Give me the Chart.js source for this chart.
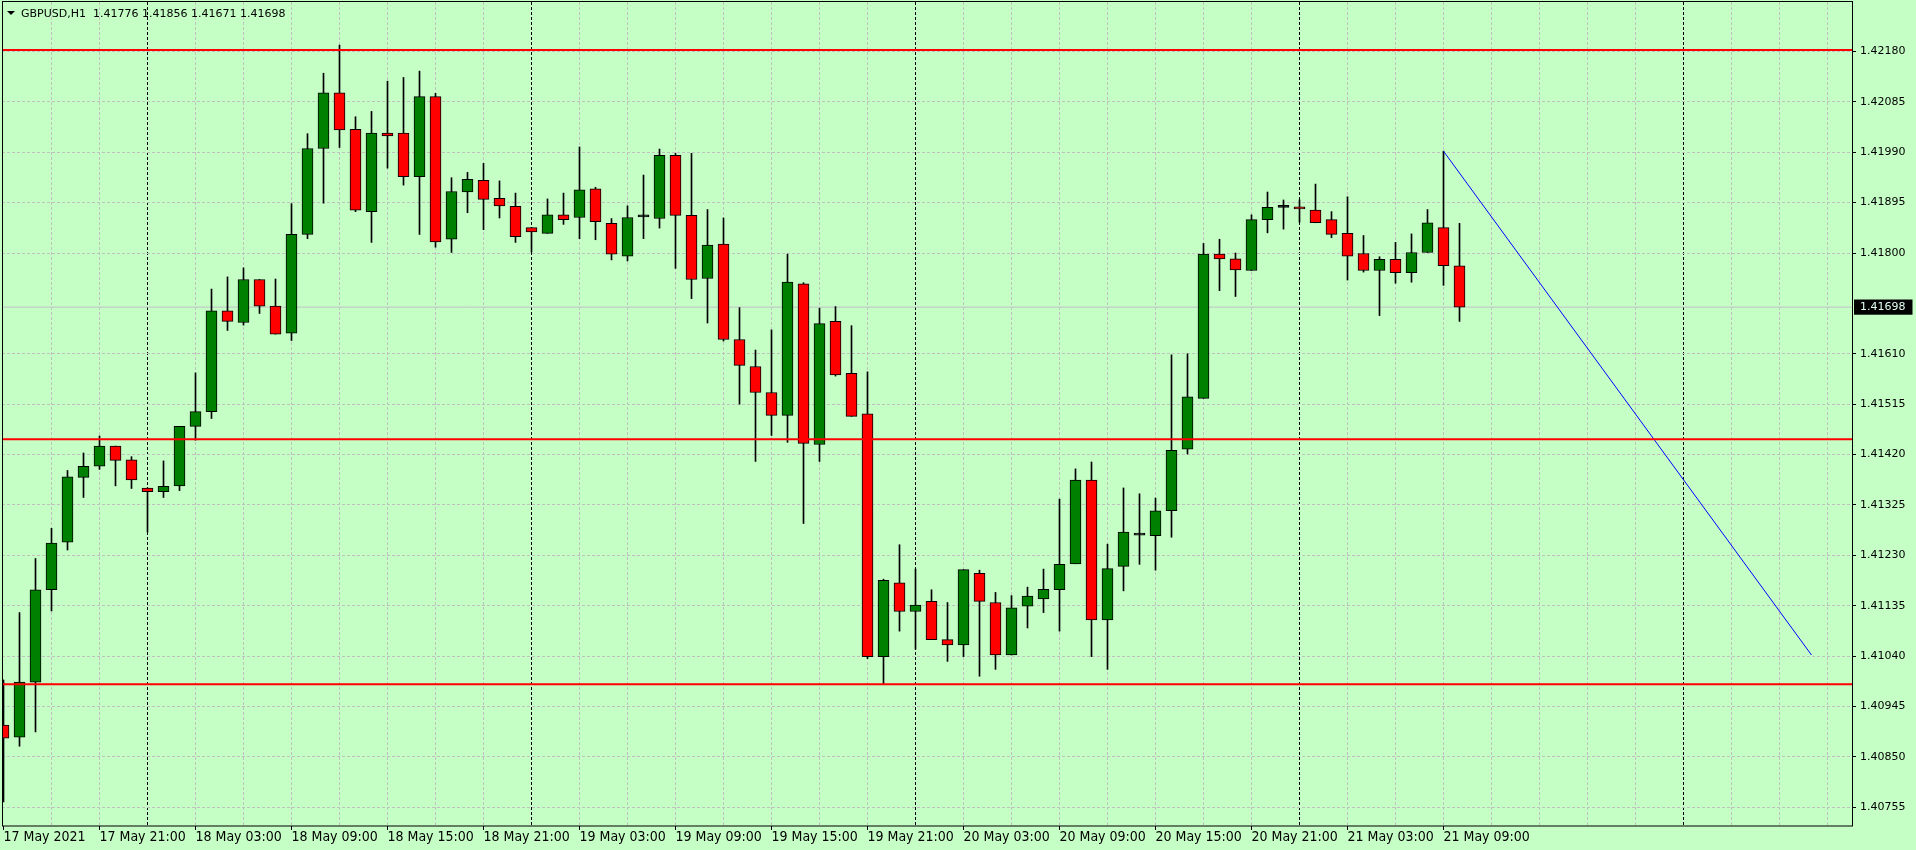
<!DOCTYPE html>
<html>
<head>
<meta charset="utf-8">
<title>GBPUSD,H1</title>
<script src="https://cdn.jsdelivr.net/npm/chart.js@4.4.1/dist/chart.umd.min.js"></script>
<style>
  html, body { margin: 0; padding: 0; background: rgb(198,255,198); overflow: hidden; }
  canvas { display: block; }
</style>
</head>
<body>
<canvas id="chart" width="1916" height="850"></canvas>
<script>
// GBPUSD H1, 17 May 15:00 .. 21 May 10:00 (one bar per hour)
const symbol = "GBPUSD,H1";

const opens = [
  1.40910, 1.40887, 1.40991, 1.41165, 1.41255, 1.41377, 1.41398, 1.41436, 1.41410, 1.41357,
  1.41350, 1.41361, 1.41473, 1.41501, 1.41691, 1.41669, 1.41750, 1.41700, 1.41649, 1.41835,
  1.41997, 1.42102, 1.42033, 1.41878, 1.42026, 1.42026, 1.41944, 1.42095, 1.41826, 1.41915,
  1.41937, 1.41903, 1.41888, 1.41848, 1.41837, 1.41872, 1.41867, 1.41921, 1.41856, 1.41794,
  1.41868, 1.41865, 1.41984, 1.41871, 1.41752, 1.41817, 1.41637, 1.41586, 1.41537, 1.41494,
  1.41742, 1.41439, 1.41671, 1.41573, 1.41497, 1.41039, 1.41178, 1.41124, 1.41143, 1.41071,
  1.41061, 1.41196, 1.41141, 1.41042, 1.41134, 1.41148, 1.41165, 1.41214, 1.41372, 1.41108,
  1.41209, 1.41268, 1.41267, 1.41314, 1.41430, 1.41526, 1.41798, 1.41789, 1.41767, 1.41863,
  1.41886, 1.41887, 1.41881, 1.41863, 1.41837, 1.41799, 1.41767, 1.41788, 1.41763, 1.41801,
  1.41848, 1.41776
];
const highs = [
  1.40995, 1.41122, 1.41224, 1.41281, 1.41390, 1.41423, 1.41455, 1.41436, 1.41416, 1.41357,
  1.41408, 1.41473, 1.41574, 1.41732, 1.41755, 1.41772, 1.41750, 1.41751, 1.41893, 1.42025,
  1.42139, 1.42192, 1.42057, 1.42067, 1.42124, 1.42131, 1.42143, 1.42101, 1.41942, 1.41952,
  1.41969, 1.41936, 1.41913, 1.41848, 1.41902, 1.41913, 1.42000, 1.41924, 1.41865, 1.41889,
  1.41947, 1.41996, 1.41988, 1.41988, 1.41882, 1.41866, 1.41697, 1.41617, 1.41655, 1.41798,
  1.41744, 1.41696, 1.41699, 1.41663, 1.41576, 1.41185, 1.41250, 1.41204, 1.41165, 1.41141,
  1.41203, 1.41202, 1.41160, 1.41154, 1.41170, 1.41204, 1.41336, 1.41393, 1.41406, 1.41251,
  1.41357, 1.41346, 1.41338, 1.41608, 1.41610, 1.41818, 1.41826, 1.41800, 1.41872, 1.41915,
  1.41900, 1.41900, 1.41930, 1.41878, 1.41906, 1.41833, 1.41793, 1.41820, 1.41836, 1.41882,
  1.41992, 1.41856
];
const lows = [
  1.40765, 1.40870, 1.40897, 1.41125, 1.41240, 1.41339, 1.41392, 1.41361, 1.41356, 1.41274,
  1.41339, 1.41352, 1.41447, 1.41488, 1.41654, 1.41664, 1.41686, 1.41647, 1.41635, 1.41827,
  1.41894, 1.41999, 1.41878, 1.41820, 1.41960, 1.41928, 1.41835, 1.41811, 1.41801, 1.41876,
  1.41844, 1.41866, 1.41820, 1.41802, 1.41837, 1.41854, 1.41827, 1.41825, 1.41787, 1.41785,
  1.41827, 1.41847, 1.41771, 1.41714, 1.41668, 1.41634, 1.41515, 1.41407, 1.41456, 1.41443,
  1.41290, 1.41407, 1.41568, 1.41492, 1.41035, 1.40986, 1.41087, 1.41053, 1.41071, 1.41030,
  1.41039, 1.41002, 1.41015, 1.41042, 1.41093, 1.41122, 1.41087, 1.41214, 1.41039, 1.41015,
  1.41163, 1.41213, 1.41202, 1.41264, 1.41421, 1.41526, 1.41729, 1.41718, 1.41767, 1.41838,
  1.41845, 1.41858, 1.41857, 1.41829, 1.41749, 1.41764, 1.41682, 1.41743, 1.41745, 1.41801,
  1.41739, 1.41671
];
const closes = [
  1.40885, 1.40991, 1.41165, 1.41253, 1.41378, 1.41398, 1.41436, 1.41409, 1.41372, 1.41350,
  1.41360, 1.41473, 1.41501, 1.41691, 1.41671, 1.41750, 1.41700, 1.41647, 1.41835, 1.41997,
  1.42102, 1.42032, 1.41881, 1.42026, 1.42021, 1.41944, 1.42095, 1.41821, 1.41916, 1.41939,
  1.41901, 1.41889, 1.41831, 1.41840, 1.41872, 1.41863, 1.41919, 1.41859, 1.41798, 1.41867,
  1.41868, 1.41984, 1.41871, 1.41750, 1.41815, 1.41637, 1.41588, 1.41537, 1.41494, 1.41745,
  1.41441, 1.41667, 1.41570, 1.41492, 1.41039, 1.41183, 1.41124, 1.41136, 1.41071, 1.41061,
  1.41203, 1.41143, 1.41042, 1.41131, 1.41153, 1.41166, 1.41213, 1.41372, 1.41108, 1.41205,
  1.41274, 1.41268, 1.41314, 1.41428, 1.41529, 1.41798, 1.41789, 1.41768, 1.41863, 1.41886,
  1.41886, 1.41883, 1.41857, 1.41835, 1.41794, 1.41767, 1.41788, 1.41763, 1.41801, 1.41857,
  1.41776, 1.41698
];

// time axis labels, one every 6 bars starting at bar 0
const xLabels = [
  "17 May 2021", "17 May 21:00", "18 May 03:00", "18 May 09:00", "18 May 15:00", "18 May 21:00",
  "19 May 03:00", "19 May 09:00", "19 May 15:00", "19 May 21:00", "20 May 03:00", "20 May 09:00",
  "20 May 15:00", "20 May 21:00", "21 May 03:00", "21 May 09:00"
];
const labelStep = 6;
const gridStep = 3;
const daySeps = [9, 33, 57, 81, 105]; // midnight bars

const yTicks = [
  1.40755, 1.40850, 1.40945, 1.41040, 1.41135, 1.41230, 1.41325, 1.41420,
  1.41515, 1.41610, 1.41800, 1.41895, 1.41990, 1.42085, 1.42180
];

// horizontal levels and the trend line
const levels = [1.42183, 1.41449, 1.40987];
const trendX = [90, 113];
const trendY = [1.41992, 1.41042];

// view window
const xMin = -0.09375, xMax = 115.53125;
const yMin = 1.407196, yMax = 1.422733;

const gridGray = "rgb(192,192,192)";
const bull = "rgb(0,128,0)";
const bear = "rgb(255,0,0)";
const clear = "rgba(0,0,0,0)";
const font = "'DejaVu Sans', Verdana, sans-serif";
const narrow = "'Liberation Sans Narrow', 'DejaVu Sans Condensed', 'Arial Narrow', sans-serif";

const last = closes.length - 1;
const lastClose = closes[last];

const bodies = opens.map((o, i) => ({ x: i, y: [o, closes[i]] }));
const wicks = lows.map((l, i) => ({ x: i, y: [l, highs[i]] }));
const bodyColors = opens.map((o, i) => closes[i] > o ? bull : (closes[i] < o ? bear : "#000"));

const gridTicks = [];
for (let v = 0; v <= Math.floor(xMax); v += gridStep) gridTicks.push(v);

const levelSets = levels.map(v => ({
  type: "line",
  data: [{ x: xMin, y: v }, { x: xMax, y: v }],
  borderColor: "#ff0000",
  borderWidth: 2,
  pointRadius: 0,
  order: 0
}));

const frame = {
  id: "frame",
  afterDraw(chart) {
    const { ctx, chartArea: a } = chart;
    ctx.save();
    ctx.strokeStyle = "#000";
    ctx.lineWidth = 1;
    ctx.strokeRect(a.left + 0.5, a.top - 0.5, a.right - a.left, a.bottom - a.top + 0.5);

    // symbol header
    ctx.fillStyle = "#000";
    ctx.beginPath();
    ctx.moveTo(7, 11);
    ctx.lineTo(15, 11);
    ctx.lineTo(11, 15);
    ctx.closePath();
    ctx.fill();
    ctx.font = "11px " + font;
    ctx.textBaseline = "alphabetic";
    const head = symbol + "  " + [opens[last], highs[last], lows[last], closes[last]]
      .map(v => v.toFixed(5)).join(" ");
    ctx.fillText(head, 21, 16.5);
    ctx.restore();
  }
};

new Chart(document.getElementById("chart"), {
  type: "bar",
  data: {
    datasets: [
      ...levelSets,
      {
        type: "line",
        data: trendX.map((x, i) => ({ x: x, y: trendY[i] })),
        borderColor: "#0000ff",
        borderWidth: 1,
        pointRadius: 0,
        order: 0
      },
      {
        type: "bar",
        data: bodies,
        backgroundColor: bodyColors,
        borderColor: "#000",
        borderWidth: 1,
        borderSkipped: false,
        barThickness: 11,
        minBarLength: 2,
        grouped: false,
        order: 1
      },
      {
        type: "bar",
        data: wicks,
        backgroundColor: "#000",
        borderWidth: 0,
        barThickness: 1,
        grouped: false,
        order: 2
      },
      {
        type: "line",
        data: [{ x: xMin, y: lastClose }, { x: xMax, y: lastClose }],
        borderColor: "rgb(192,192,200)",
        borderWidth: 1,
        pointRadius: 0,
        order: 3
      }
    ]
  },
  options: {
    responsive: false,
    animation: false,
    devicePixelRatio: 1,
    events: [],
    layout: { padding: { left: 2, top: 2, right: 0, bottom: 0 } },
    plugins: { legend: { display: false }, tooltip: { enabled: false } },
    scales: {
      x: {
        type: "linear",
        min: xMin,
        max: xMax,
        position: "bottom",
        offset: false,
        afterBuildTicks: s => { s.ticks = gridTicks.map(v => ({ value: v })); },
        afterFit: s => { s.height = 24; s.paddingLeft = 0; s.paddingRight = 0; },
        grid: {
          offset: false,
          lineWidth: 1,
          tickLength: 4,
          tickBorderDash: [],
          color: c => (c.tick && (c.tick.value === 0 || daySeps.includes(c.tick.value))) ? clear : gridGray,
          tickColor: c => (c.tick && c.tick.value % labelStep === 0 && c.tick.value / labelStep < xLabels.length) ? "#000" : clear
        },
        border: { display: false, dash: [3, 2] },
        ticks: {
          autoSkip: false,
          maxRotation: 0,
          minRotation: 0,
          align: "start",
          padding: 0,
          color: "#000",
          font: { family: narrow, size: 14, lineHeight: 1 },
          callback: v => {
            const k = v / labelStep;
            return (Number.isInteger(k) && k < xLabels.length) ? xLabels[k] : "";
          }
        }
      },
      xDay: {
        type: "linear",
        min: xMin,
        max: xMax,
        position: "bottom",
        offset: false,
        afterBuildTicks: s => { s.ticks = daySeps.map(v => ({ value: v })); },
        afterFit: s => { s.height = 0; s.paddingLeft = 0; s.paddingRight = 0; },
        grid: { offset: false, color: "#000", lineWidth: 1, drawTicks: false },
        border: { display: false, dash: [3, 2] },
        ticks: { display: false }
      },
      y: {
        type: "linear",
        min: yMin,
        max: yMax,
        position: "right",
        afterBuildTicks: s => {
          s.ticks = yTicks.concat([lastClose]).sort((a, b) => a - b).map(v => ({ value: v }));
        },
        afterFit: s => { s.width = 64; s.paddingTop = 0; s.paddingBottom = 0; },
        grid: {
          lineWidth: 1,
          tickLength: 4,
          tickBorderDash: [],
          color: c => (c.tick && c.tick.value === lastClose) ? clear : gridGray,
          tickColor: c => (c.tick && c.tick.value === lastClose) ? clear : "#000"
        },
        border: { display: false, dash: [3, 2] },
        ticks: {
          autoSkip: false,
          padding: 4,
          font: { family: font, size: 11 },
          color: c => (c.tick && c.tick.value === lastClose) ? "rgb(224,255,240)" : "#000",
          showLabelBackdrop: c => !!(c.tick && c.tick.value === lastClose),
          backdropColor: "#000",
          backdropPadding: { left: 6, right: 7, top: 1, bottom: 1 },
          callback: v => v.toFixed(5)
        }
      }
    }
  },
  plugins: [frame]
});
</script>
</body>
</html>
